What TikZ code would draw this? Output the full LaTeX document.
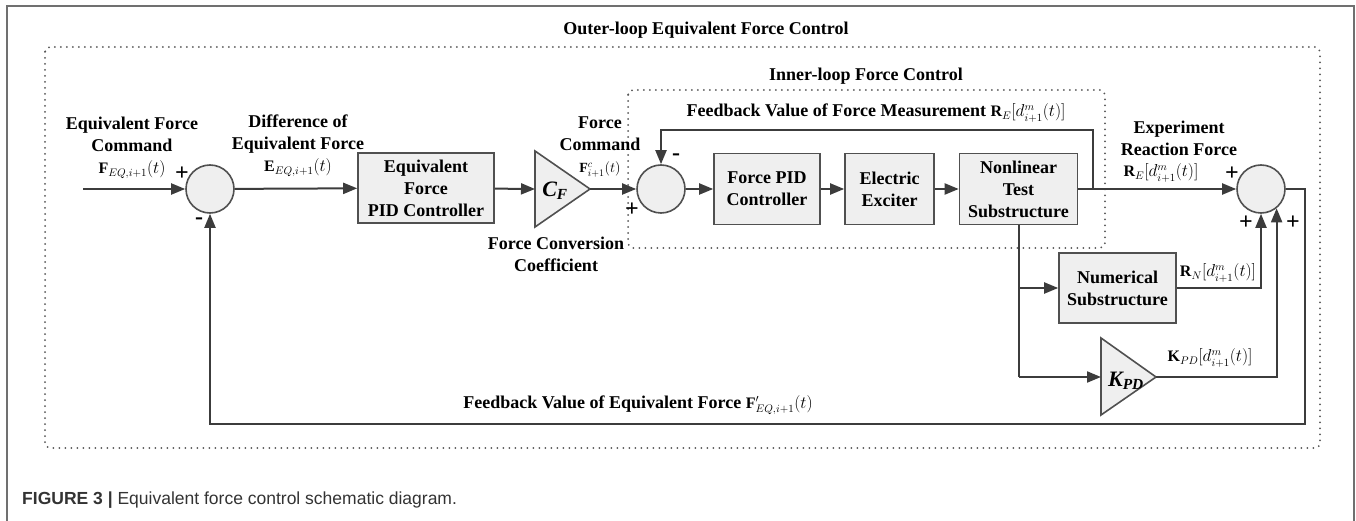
\documentclass[tikz,border=0pt]{standalone}
\usepackage{amsmath}
\usepackage{fontspec}
\setmainfont{Liberation Serif}
\setsansfont{Liberation Sans}
\usepackage{xcolor}
\usepackage{tikz}
\usetikzlibrary{arrows.meta}
\definecolor{lnc}{HTML}{3C3C3C}
\definecolor{boxc}{HTML}{505050}
\definecolor{boxf}{HTML}{EFEFEF}
\definecolor{dotc}{HTML}{555555}
\definecolor{framec}{HTML}{707070}
\definecolor{capc}{HTML}{333333}
\newcommand{\lbltxt}{\bfseries\fontsize{18}{22}\selectfont}
\newcommand{\msz}{\fontsize{16}{22}\selectfont}
\newcommand{\ssz}{\fontsize{14}{22}\selectfont}
\newcommand{\sgntxt}{\bfseries\fontsize{24}{24}\selectfont}
\newcommand{\gaintxt}{\bfseries\itshape\fontsize{22}{24}\selectfont}
\newcommand{\captxt}{\sffamily\fontsize{17.5}{20}\selectfont}

\begin{document}
\begin{tikzpicture}[x=1pt,y=-1pt,
    conn/.style={draw=lnc,line width=2pt},
    arr/.style={conn,-{Triangle[length=14pt,width=11pt]}},
    blk/.style={draw=boxc,fill=boxf,line width=1.6pt,align=center,inner sep=0pt,font=\lbltxt},
    gain/.style={draw=boxc,fill=boxf,line width=1.6pt,line join=miter},
    sumc/.style={draw=boxc,fill=boxf,circle,line width=1.6pt,minimum size=48pt,inner sep=0pt},
    lbl/.style={align=center,inner sep=0pt,font=\lbltxt},
    mlbl/.style={inner sep=0pt,font=\msz},
    sgn/.style={inner sep=0pt,font=\sgntxt},
    dotbox/.style={draw=dotc,line width=2pt,line cap=round,dash pattern=on 0pt off 6pt,rounded corners=5pt}]
    \useasboundingbox (0,0) rectangle (1356,521);
    \draw[framec,line width=1.5pt] (7,530) -- (7,6) -- (1354,6) -- (1354,530);
    \draw[dotbox] (45,47) rectangle (1320,448);
    \draw[dotbox] (628,90) rectangle (1105,248);
    \node[lbl] (tOut) at (706,30) {Outer-loop Equivalent Force Control};
    \node[lbl] (tIn) at (866,76) {Inner-loop Force Control};

    \coordinate (inA) at (83,189);
    \node[sumc] (sumA) at (210,189) {};
    \node[blk,minimum width=136pt,minimum height=70pt] (pidE) at (426,188) {Equivalent\\Force\\PID Controller};
    \coordinate (cfA) at (535,151);
    \coordinate (cfB) at (535,227);
    \coordinate (cfT) at (590,189);
    \coordinate (cfI) at (535,189);
    \draw[gain] (cfA) -- (cfB) -- (cfT) -- cycle;
    \node[font=\gaintxt] (cfL) at (555,191) {C\textsubscript{F}};
    \node[sumc] (sumB) at (661,189) {};
    \node[blk,minimum width=106pt,minimum height=71pt] (pidF) at (767,189) {Force PID\\Controller};
    \node[blk,minimum width=89pt,minimum height=71pt] (exc) at (889.5,189) {Electric\\Exciter};
    \node[blk,minimum width=118pt,minimum height=71pt] (nts) at (1018.5,189) {Nonlinear\\Test\\Substructure};
    \node[sumc] (sumC) at (1261,189) {};
    \node[blk,minimum width=117pt,minimum height=70pt] (num) at (1117.5,288) {Numerical\\Substructure};
    \coordinate (kA) at (1101,338);
    \coordinate (kB) at (1101,415);
    \coordinate (kO) at (1156,377);
    \coordinate (kI) at (1101,377);
    \draw[gain] (kA) -- (kB) -- (kO) -- cycle;
    \node[font=\gaintxt] (kL) at (1126,381) {K\textsubscript{PD}};

    \coordinate (fbR) at (1093,189);
    \coordinate (fbT) at (1093,130);
    \coordinate (brN) at (nts.south |- num.west);
    \coordinate (brK) at (nts.south |- kI);
    \coordinate (oR) at (1305,189);
    \coordinate (oB) at (1305,424);
    \coordinate (fbL) at (210,424);

    \draw[arr] (inA) -- (sumA);
    \draw[arr] (sumA) -- (pidE);
    \draw[arr] (pidE) -- (cfI);
    \draw[arr] (cfT) -- (sumB);
    \draw[arr] (sumB) -- (pidF);
    \draw[arr] (pidF) -- (exc);
    \draw[arr] (exc) -- (nts);
    \draw[arr] (nts) -- (sumC);
    \draw[arr] (fbR) -- (fbT) -| (sumB.north);
    \draw[conn] (nts.south) -- (brK);
    \draw[arr] (brN) -- (num);
    \draw[arr] (brK) -- (kI);
    \draw[arr] (num) -| (sumC.south);
    \draw[arr] (kO) -| (sumC.-51);
    \draw[arr] (sumC.east) -- (oR) -- (oB) -- (fbL) -- (sumA);

    \node[sgn] (pA) at (182,174) {+};
    \node[sgn] (mA) at (199,221) {-};
    \node[sgn] (mB) at (676,157) {-};
    \node[sgn] (pB) at (632,210) {+};
    \node[sgn] (pC1) at (1232,174) {+};
    \node[sgn] (pC2) at (1246,223) {+};
    \node[sgn] (pC3) at (1293,223) {+};

    \node[lbl] (lIn) at (132,148) {Equivalent Force\\Command\\{\msz$\mathbf{F}_{EQ,i+1}(t)$}};
    \node[lbl] (lDif) at (298,146) {Difference of\\Equivalent Force\\{\msz$\mathbf{E}_{EQ,i+1}(t)$}};
    \node[lbl] (lFc) at (600,147) {Force\\Command\\{\ssz$\mathbf{F}^{c}_{i+1}(t)$}};
    \node[lbl] (lConv) at (556,254) {Force Conversion\\Coefficient};
    \node[lbl] (lFbF) at (876,113) {Feedback Value of Force Measurement {\msz$\mathbf{R}_E[d^m_{i+1}(t)]$}};
    \node[lbl] (lExp) at (1179,138) {Experiment\\Reaction Force};
    \node[mlbl] (lRE) at (1161,173) {$\mathbf{R}_E[d^m_{i+1}(t)]$};
    \node[mlbl] (lRN) at (1218,273) {$\mathbf{R}_N[d^m_{i+1}(t)]$};
    \node[mlbl] (lKPD) at (1210,358) {$\mathbf{K}_{PD}[d^m_{i+1}(t)]$};
    \node[lbl] (lFbE) at (638,405) {Feedback Value of Equivalent Force {\msz$\mathbf{F}'_{EQ,i+1}(t)$}};

    \node[anchor=west,font=\captxt,text=capc,inner sep=0pt] (cap) at (22,500) {\textbf{FIGURE 3 |} Equivalent force control schematic diagram.};
\end{tikzpicture}
\end{document}
